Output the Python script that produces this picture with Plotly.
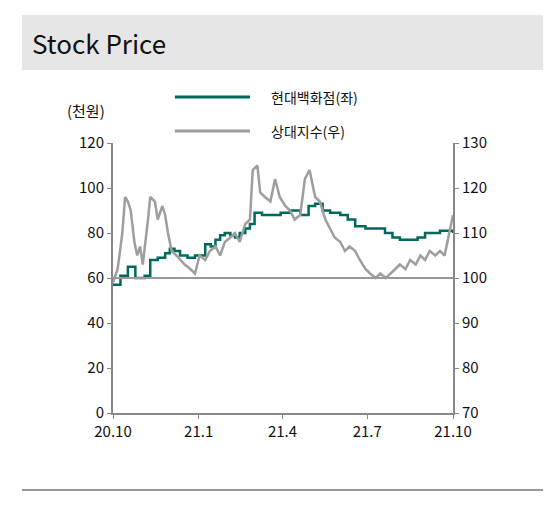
import plotly.graph_objects as go

# 일수 (2020.10.1 기준)
green_days = [0, 8, 16, 24, 34, 40, 48, 56, 61, 66, 72, 80, 88, 99, 105, 110, 115, 120, 126, 131, 136, 142, 147, 150, 152, 160, 169, 180, 190, 201, 210, 217, 225, 233, 244, 252, 260, 271, 282, 292, 300, 308, 319, 327, 335, 343, 351, 358, 365]
green_vals = [57, 61, 65, 60, 61, 68, 69, 71, 73, 72, 70, 69, 70, 75, 74, 77, 79, 80, 79, 78, 80, 82, 84, 84, 89, 88, 88, 89, 90, 88, 92, 93, 90, 89, 88, 86, 83, 82, 82, 80, 78, 77, 77, 78, 80, 80, 81, 81, 80]

gray_days = [0, 5, 10, 13, 16, 19, 23, 26, 29, 32, 37, 40, 45, 48, 53, 56, 59, 63, 68, 72, 77, 83, 88, 93, 99, 104, 110, 115, 120, 126, 131, 136, 142, 147, 150, 155, 158, 163, 169, 174, 179, 185, 190, 195, 201, 206, 211, 217, 222, 228, 233, 238, 244, 249, 254, 260, 265, 271, 276, 282, 287, 293, 298, 303, 308, 314, 319, 325, 330, 335, 340, 346, 351, 356, 360, 365]
gray_vals = [99, 102, 110, 118, 117, 115, 108, 105, 107, 103, 112, 118, 117, 113, 116, 114, 110, 106, 105, 104, 103, 102, 101, 105, 104, 106, 107, 105, 108, 109, 110, 108, 112, 113, 124, 125, 119, 118, 117, 122, 118, 116, 115, 113, 114, 122, 124, 118, 117, 113, 111, 109, 108, 106, 107, 106, 104, 102, 101, 100, 101, 100, 101, 102, 103, 102, 104, 103, 105, 104, 106, 105, 106, 105, 109, 114]

tick_days = [0, 92, 182, 273, 365]
tick_text = ["20.10", "21.1", "21.4", "21.7", "21.10"]

GREEN = "#00695c"
GRAY = "#9e9e9e"
FONT = "Noto Sans CJK KR"

fig = go.Figure()
fig.add_trace(go.Scatter(x=green_days, y=green_vals, mode="lines", name="현대백화점(좌)",
                         line=dict(color=GREEN, width=2.5, shape="hv")))
fig.add_trace(go.Scatter(x=gray_days, y=gray_vals, mode="lines", name="상대지수(우)", yaxis="y2",
                         line=dict(color=GRAY, width=2.5)))

ax = dict(showline=True, linecolor="#888", linewidth=2, ticks="outside", tickcolor="#888",
          ticklen=4, showgrid=False, zeroline=False, tickfont=dict(size=15, color="#111"))

# 범례 (수동)
legend_items = [("현대백화점(좌)", GREEN, 1.170), ("상대지수(우)", GRAY, 1.044)]
shapes = [
    dict(type="rect", xref="paper", yref="paper", x0=-0.268, x1=1.265, y0=1.27, y1=1.474,
         fillcolor="#e6e6e6", line=dict(width=0), layer="below"),
    dict(type="line", xref="paper", yref="paper", x0=-0.268, x1=1.265, y0=-0.285, y1=-0.285,
         line=dict(color="#999", width=2)),
    dict(type="line", xref="paper", yref="y", x0=0, x1=1, y0=60, y1=60,
         line=dict(color="#999", width=2)),
]
annotations = [
    dict(text="Stock Price", xref="paper", yref="paper", x=-0.245, y=1.372, xanchor="left",
         yanchor="middle", showarrow=False, font=dict(size=26, color="#111")),
    dict(text="(천원)", xref="paper", yref="paper", x=-0.08, y=1.12, xanchor="center",
         yanchor="middle", showarrow=False, font=dict(size=15, color="#111")),
]
for name, color, yy in legend_items:
    shapes.append(dict(type="line", xref="paper", yref="paper", x0=0.182, x1=0.403, y0=yy, y1=yy,
                       line=dict(color=color, width=3)))
    annotations.append(dict(text=name, xref="paper", yref="paper", x=0.46, y=yy, xanchor="left",
                            yanchor="middle", showarrow=False, font=dict(size=14, color="#111")))

fig.update_layout(
    width=557, height=505, plot_bgcolor="white", paper_bgcolor="white",
    margin=dict(l=105, r=112, t=135, b=100, autoexpand=False),
    font=dict(family=FONT), showlegend=False,
    xaxis=dict(ax, range=[0, 365], tickvals=tick_days, ticktext=tick_text),
    yaxis=dict(ax, range=[0, 120], dtick=20),
    yaxis2=dict(ax, range=[70, 130], dtick=10, overlaying="y", side="right"),
    shapes=shapes, annotations=annotations,
)
fig.write_html("out.html")
